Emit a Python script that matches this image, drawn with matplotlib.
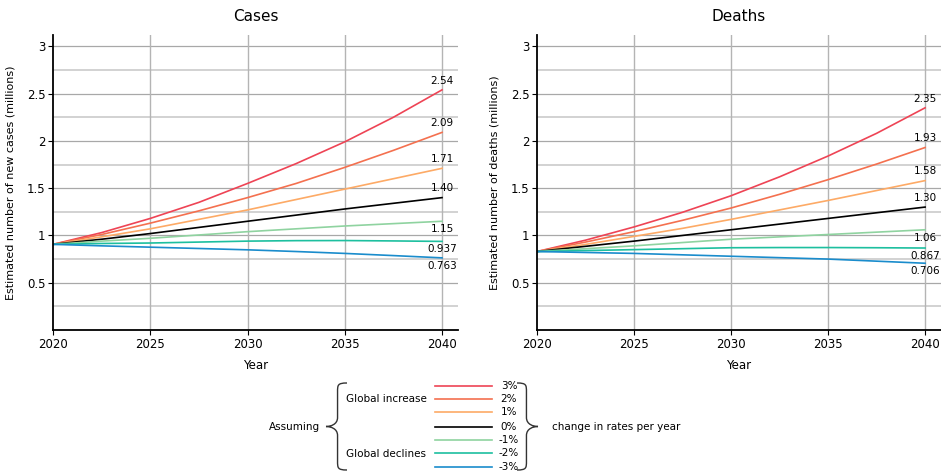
import numpy as np
import matplotlib
matplotlib.use("Agg")
import matplotlib.pyplot as plt
from matplotlib.path import Path
from matplotlib.patches import PathPatch

plt.rcParams['font.family'] = ['DejaVu Sans']

# data (millions)
years = [2020, 2022.5, 2025, 2027.5, 2030, 2032.5, 2035, 2037.5, 2040]
rate_labels = ['3%', '2%', '1%', '0%', '-1%', '-2%', '-3%']
colors = ['#ee4455', '#f4704f', '#fdaa66', '#000000', '#8fd3a0', '#1dbf9f', '#1a8ccc']

cases = [
    [0.906, 1.03, 1.18, 1.35, 1.55, 1.76, 1.99, 2.25, 2.54],
    [0.906, 1.01, 1.13, 1.26, 1.40, 1.55, 1.72, 1.90, 2.09],
    [0.906, 0.985, 1.07, 1.17, 1.27, 1.38, 1.49, 1.60, 1.71],
    [0.906, 0.96, 1.02, 1.085, 1.15, 1.215, 1.28, 1.34, 1.40],
    [0.906, 0.94, 0.97, 1.005, 1.04, 1.07, 1.10, 1.125, 1.15],
    [0.906, 0.915, 0.92, 0.93, 0.94, 0.945, 0.946, 0.942, 0.937],
    [0.906, 0.89, 0.876, 0.862, 0.848, 0.83, 0.81, 0.787, 0.763],
]
cases_end = ['2.54', '2.09', '1.71', '1.40', '1.15', '0.937', '0.763']

deaths = [
    [0.830, 0.95, 1.09, 1.245, 1.42, 1.62, 1.84, 2.08, 2.35],
    [0.830, 0.93, 1.04, 1.16, 1.29, 1.435, 1.59, 1.755, 1.93],
    [0.830, 0.905, 0.99, 1.075, 1.17, 1.27, 1.37, 1.475, 1.58],
    [0.830, 0.885, 0.94, 1.00, 1.06, 1.12, 1.18, 1.24, 1.30],
    [0.830, 0.86, 0.89, 0.925, 0.96, 0.985, 1.01, 1.035, 1.06],
    [0.830, 0.84, 0.85, 0.86, 0.87, 0.872, 0.872, 0.87, 0.867],
    [0.830, 0.82, 0.81, 0.795, 0.78, 0.765, 0.75, 0.728, 0.706],
]
deaths_end = ['2.35', '1.93', '1.58', '1.30', '1.06', '0.867', '0.706']

W, H = 941, 471
fig = plt.figure(figsize=(W / 100, H / 100), dpi=100)


def panel(rect, series, ends, title, ylabel):
    ax = fig.add_axes(rect)
    ax.set_xlim(2020, 2040.82)
    ax.set_ylim(0, 3.12)
    for v in np.arange(0.25, 3.01, 0.25):
        major = abs(v * 2 - round(v * 2)) < 1e-6
        ax.axhline(v, color='#a8a8a8' if major else '#cfcfcf',
                   lw=0.9 if major else 1.3, zorder=0)
    for x in [2025, 2030, 2035, 2040]:
        ax.axvline(x, color='#b4b4b4', lw=1.0, zorder=0)
    for i, vals in enumerate(series):
        ax.plot(years, vals, color=colors[i], lw=1.2, zorder=2)
        if i < 4:
            ax.annotate(ends[i], (years[-1], vals[-1]), xytext=(0, 3),
                        textcoords='offset points', ha='center', va='bottom',
                        fontsize=7.5, zorder=3)
        else:
            ax.annotate(ends[i], (years[-1], vals[-1]), xytext=(0, -2),
                        textcoords='offset points', ha='center', va='top',
                        fontsize=7.5, zorder=3)
    ax.set_xticks([2020, 2025, 2030, 2035, 2040])
    ax.set_yticks([0.5, 1, 1.5, 2, 2.5, 3])
    ax.set_yticklabels(['0.5', '1', '1.5', '2', '2.5', '3'])
    ax.tick_params(axis='both', labelsize=8.5, length=3.5, width=0.8,
                   direction='out', pad=2)
    for s in ['top', 'right']:
        ax.spines[s].set_visible(False)
    for s in ['left', 'bottom']:
        ax.spines[s].set_linewidth(1.3)
    ax.set_title(title, fontsize=11, pad=10)
    ax.set_xlabel('Year', fontsize=8.5, labelpad=6)
    ax.set_ylabel(ylabel, fontsize=8, labelpad=8)
    return ax


panel([53 / W, 1 - 330 / H, 405 / W, 295 / H], cases, cases_end,
      'Cases', 'Estimated number of new cases (millions)')
panel([537 / W, 1 - 330 / H, 404 / W, 295 / H], deaths, deaths_end,
      'Deaths', 'Estimated number of deaths (millions)')

# legend drawn in pixel coordinates
lg = fig.add_axes([0, 0, 1, 1], zorder=-1)
lg.set_xlim(0, W)
lg.set_ylim(H, 0)
lg.axis('off')

leg_y = [386, 399, 412, 427, 440, 453, 467]
for i, yy in enumerate(leg_y):
    lg.plot([435, 492], [yy, yy], color=colors[i], lw=1.2)
    lg.text(509, yy, rate_labels[i], ha='center', va='center', fontsize=7.5)


def brace(x, y0, y1, w, left=True):
    ym = (y0 + y1) / 2
    r = 9
    if left:
        xe, xm, xt = x + w, x + w * 0.55, x
    else:
        xe, xm, xt = x, x + w * 0.45, x + w
    verts = [(xe, y0), (xm, y0), (xm, y0 + 2), (xm, y0 + r),
             (xm, ym - r),
             (xm, ym - 2), (xt + (xm - xt) * 0.4, ym), (xt, ym),
             (xt + (xm - xt) * 0.4, ym), (xm, ym + 2), (xm, ym + r),
             (xm, y1 - r),
             (xm, y1 - 2), (xm, y1), (xe, y1)]
    codes = [Path.MOVETO, Path.CURVE4, Path.CURVE4, Path.CURVE4,
             Path.LINETO,
             Path.CURVE4, Path.CURVE4, Path.CURVE4,
             Path.CURVE4, Path.CURVE4, Path.CURVE4,
             Path.LINETO,
             Path.CURVE4, Path.CURVE4, Path.CURVE4]
    lg.add_patch(PathPatch(Path(verts, codes), fc='none', ec='#333333', lw=1.0))


brace(326, 383, 470, 21, left=True)
brace(517, 383, 470, 21, left=False)

lg.text(320, 427, 'Assuming', ha='right', va='center', fontsize=7.5)
lg.text(346, 399, 'Global increase', ha='left', va='center', fontsize=7.5)
lg.text(346, 454, 'Global declines', ha='left', va='center', fontsize=7.5)
lg.text(552, 427, 'change in rates per year', ha='left', va='center', fontsize=7.5)

fig.savefig('out.png', dpi=100)
